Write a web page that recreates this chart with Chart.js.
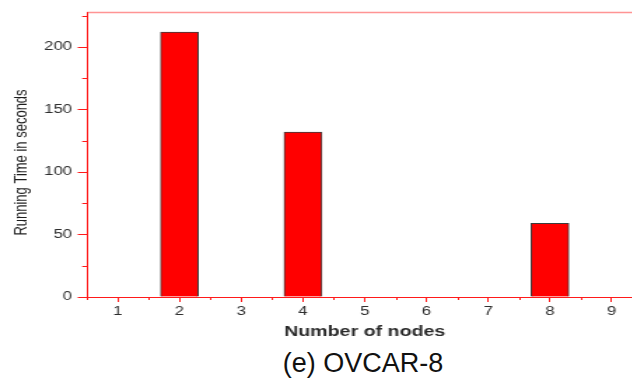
<!DOCTYPE html>
<html>
<head>
<meta charset="utf-8">
<script src="https://cdn.jsdelivr.net/npm/chart.js@4.4.1/dist/chart.umd.min.js"></script>
<style>
  html, body { margin: 0; padding: 0; background: #fff; }
  #frame { position: relative; width: 632px; height: 380px; overflow: hidden; background: #fff; }
  /* the plot is drawn narrow and widened horizontally, giving the wide axis lettering */
  #plot { position: absolute; left: 0; top: 0; width: 480px; height: 341px;
          transform: scaleX(1.4); transform-origin: 0 0; }
  #caption { position: absolute; left: 363px; top: 350px; transform: translateX(-50%);
             font: 27px "Liberation Sans", Arial, sans-serif; line-height: 27px;
             color: #111; white-space: nowrap; }
</style>
</head>
<body>
<div id="frame">
  <div id="plot"><canvas id="chart" width="480" height="341"></canvas></div>
  <div id="caption">(e) OVCAR-8</div>
</div>
<script>
// Running time per cluster size
const nodeCounts = [2, 4, 8];
const runningTimes = [212, 132, 59];

// Axis ticks
const nodeTicks = [1, 2, 3, 4, 5, 6, 7, 8, 9];
const nodeMinorTicks = [0.5, 1.5, 2.5, 3.5, 4.5, 5.5, 6.5, 7.5, 8.5, 9.5];
const timeTicks = [0, 50, 100, 150, 200];
const timeMinorTicks = [25, 75, 125, 175, 225];

const xTitle = 'Number of nodes';
const yTitle = 'Running Time in seconds';

const AXIS_RED = '#ff1a1a';
const LABEL_GREY = '#2e2e2e';
const FONT = '"Liberation Sans", Arial, sans-serif';

// minor ticks, the top/right frame and the vertical axis title
const frameDecor = {
  id: 'frameDecor',
  afterDraw(chart) {
    const { ctx, chartArea: a, scales: { x, y } } = chart;
    ctx.save();
    ctx.strokeStyle = AXIS_RED;
    ctx.lineWidth = 1;
    ctx.beginPath();
    nodeMinorTicks.forEach(v => {
      const px = Math.round(x.getPixelForValue(v)) + 0.5;
      ctx.moveTo(px, a.bottom);
      ctx.lineTo(px, a.bottom + 3);
    });
    timeMinorTicks.forEach(v => {
      const py = Math.round(y.getPixelForValue(v)) + 0.5;
      ctx.moveTo(a.left, py);
      ctx.lineTo(a.left - 3.3, py);
    });
    ctx.stroke();

    ctx.strokeStyle = 'rgba(255,60,60,0.55)';
    ctx.lineWidth = 1.5;
    ctx.beginPath();
    ctx.moveTo(Math.round(a.left), a.top + 0.5);
    ctx.lineTo(a.right, a.top + 0.5);
    ctx.lineTo(a.right, a.bottom);
    ctx.stroke();

    ctx.fillStyle = '#1e1e1e';
    ctx.font = '13px ' + FONT;
    ctx.textAlign = 'center';
    ctx.textBaseline = 'middle';
    ctx.translate(15, (a.top + a.bottom) / 2 + 8);
    ctx.rotate(-Math.PI / 2);
    ctx.fillText(yTitle, 0, 0);
    ctx.restore();
  }
};

new Chart(document.getElementById('chart'), {
  type: 'bar',
  data: {
    datasets: [{
      data: nodeCounts.map((n, i) => ({ x: n, y: runningTimes[i] })),
      backgroundColor: '#ff0000',
      borderColor: '#3c3c3c',
      borderWidth: 1,
      borderSkipped: 'start',
      barThickness: 27
    }]
  },
  options: {
    responsive: false,
    animation: false,
    events: [],
    layout: { padding: { top: 12, right: 21, left: 0, bottom: 0 } },
    plugins: { legend: { display: false }, tooltip: { enabled: false } },
    scales: {
      x: {
        type: 'linear',
        min: 0.5,
        max: 9.5,
        offset: false,
        afterBuildTicks: s => { s.ticks = nodeTicks.map(v => ({ value: v })); },
        afterFit: s => { s.height = 44; },
        ticks: { font: { family: FONT, size: 12 }, color: LABEL_GREY, padding: 2,
                 maxRotation: 0, autoSkip: false },
        grid: { offset: false, drawOnChartArea: false, drawTicks: true, tickLength: 5,
                color: AXIS_RED, lineWidth: 1 },
        border: { display: true, color: AXIS_RED, width: 1 },
        title: { display: true, text: xTitle, color: '#2a2a2a',
                 font: { family: FONT, size: 14, weight: 'bold' },
                 padding: { top: 0, bottom: 0 } }
      },
      y: {
        type: 'linear',
        min: 0,
        max: 228,
        afterBuildTicks: s => { s.ticks = timeTicks.map(v => ({ value: v })); },
        afterFit: s => { s.width = 62; },
        ticks: { font: { family: FONT, size: 12 }, color: LABEL_GREY, padding: 4 },
        grid: { drawOnChartArea: false, drawTicks: true, tickLength: 6.5,
                color: AXIS_RED, lineWidth: 1 },
        border: { display: true, color: AXIS_RED, width: 1 }
      }
    }
  },
  plugins: [frameDecor]
});
</script>
</body>
</html>
